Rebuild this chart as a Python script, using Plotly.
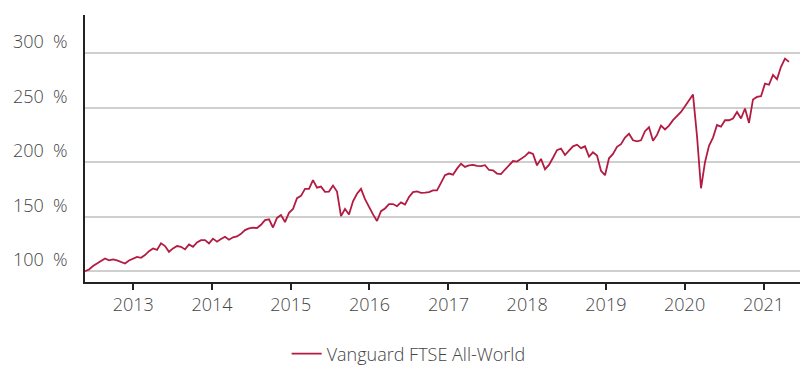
import pandas as pd
import plotly.graph_objects as go

# Vanguard FTSE All-World, indexed performance (%), sampled roughly every two weeks
start_date = "2012-05-22"
end_date = "2021-04-29"
values = [
    100.0, 101.5, 104.6, 107.0, 109.0, 111.6, 109.8, 110.7, 109.8, 108.5,
    107.0, 109.8, 111.6, 113.0, 112.2, 114.7, 118.3, 120.8, 119.5, 125.5,
    123.0, 117.7, 120.8, 123.0, 122.3, 119.9, 124.5, 122.3, 126.3, 128.4,
    128.4, 125.4, 129.8, 127.0, 129.5, 131.5, 128.8, 131.0, 131.8, 134.2,
    137.6, 139.2, 139.9, 139.5, 142.5, 146.8, 147.5, 140.0, 148.8, 151.5,
    145.0, 153.5, 157.0, 167.0, 169.0, 175.5, 175.5, 183.5, 176.5, 177.5,
    172.7, 173.0, 178.5, 173.0, 150.5, 157.0, 152.0, 164.0, 171.0, 175.5,
    166.0, 158.5, 152.0, 146.0, 155.0, 157.5, 161.5, 161.5, 159.5, 163.0,
    161.0, 168.0, 172.5, 173.2, 171.8, 172.0, 172.5, 174.0, 174.0, 181.0,
    188.0, 189.5, 188.5, 194.0, 198.5, 195.6, 197.0, 197.5, 196.5, 196.3,
    197.2, 192.8, 192.5, 189.5, 189.0, 193.2, 197.5, 201.0, 200.5, 203.0,
    205.5, 209.0, 207.5, 197.0, 203.0, 193.5, 197.5, 204.0, 211.0, 212.5,
    206.5, 210.5, 214.5, 216.0, 212.8, 214.5, 205.0, 209.0, 206.0, 192.0,
    188.0, 203.5, 207.5, 214.0, 216.5, 222.5, 226.0, 220.0, 219.0, 220.0,
    228.4, 232.0, 219.5, 225.0, 233.5, 230.0, 233.5, 238.5, 242.5, 246.0,
    251.3, 256.8, 262.0, 224.0, 176.0, 200.0, 215.0, 222.5, 234.0, 232.5,
    238.4, 238.4, 240.0, 246.0, 240.0, 249.2, 236.0, 257.5, 259.8, 260.5,
    272.0, 271.0, 280.0, 276.0, 287.5, 295.0, 292.0,
]
dates = pd.date_range(start_date, end_date, periods=len(values))

y_ticks = [100, 150, 200, 250, 300]
y_tick_text = [f"{v}\u00a0\u00a0%" for v in y_ticks]
x_ticks = [f"{y}-01-01" for y in range(2013, 2022)]
x_tick_text = [str(y) for y in range(2013, 2022)]

LINE_COLOR = "#B31B42"
TEXT_COLOR = "#444444"
FONT = "Open Sans"

fig = go.Figure()
fig.add_trace(go.Scatter(
    x=dates, y=values, mode="lines",
    name="Vanguard FTSE All-World",
    line=dict(color=LINE_COLOR, width=1.8),
))

fig.update_layout(
    width=801, height=365,
    margin=dict(l=85, r=1, t=15, b=83, autoexpand=False),
    paper_bgcolor="white", plot_bgcolor="white",
    font=dict(family=FONT, color=TEXT_COLOR, size=18, weight=300),
    showlegend=True,
    legend=dict(
        orientation="h", x=0.282, xanchor="left", y=-0.2, yanchor="top",
        font=dict(size=18, color=TEXT_COLOR, family=FONT, weight=300),
        bgcolor="rgba(0,0,0,0)",
    ),
    xaxis=dict(
        range=["2012-05-22", "2021-06-19"],
        tickmode="array", tickvals=x_ticks, ticktext=x_tick_text,
        showgrid=False, zeroline=False,
        showline=True, linecolor="#222222", linewidth=1.5,
        ticks="outside", ticklen=6, tickwidth=1.5, tickcolor="#222222",
        tickfont=dict(size=18, color=TEXT_COLOR, family=FONT, weight=300),
    ),
    yaxis=dict(
        range=[90, 335],
        tickmode="array", tickvals=y_ticks, ticktext=y_tick_text,
        showgrid=True, gridcolor="#CFCFCF", gridwidth=1.5,
        zeroline=False,
        showline=True, linecolor="#222222", linewidth=1.5,
        ticks="", ticklabelstandoff=12, ticklabelshift=-11,
        tickfont=dict(size=18, color=TEXT_COLOR, family=FONT, weight=300),
    ),
)

fig.write_html("out.html")
